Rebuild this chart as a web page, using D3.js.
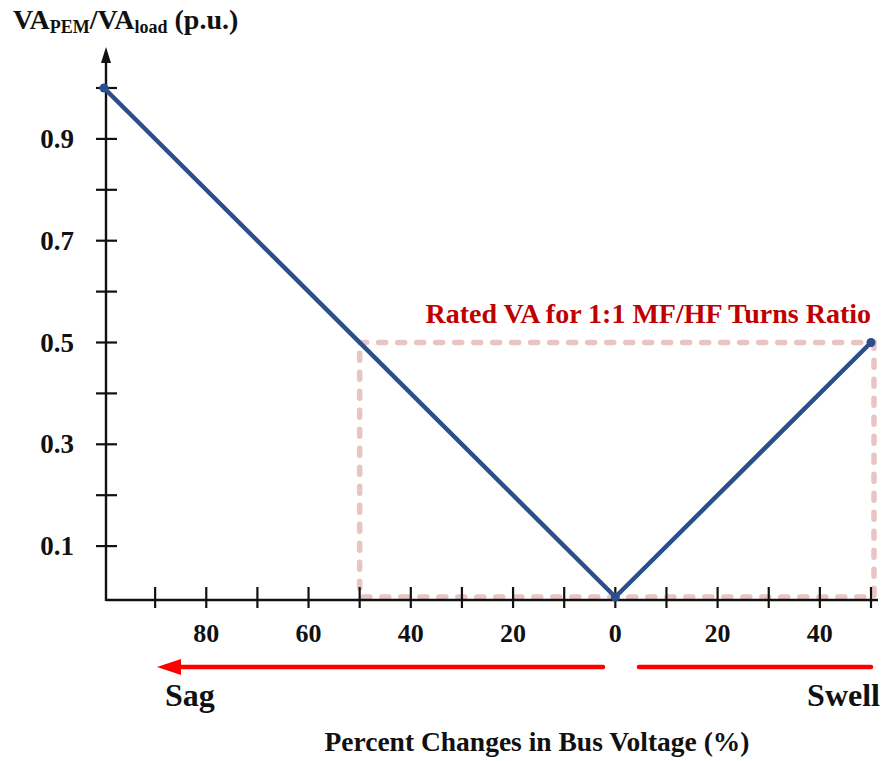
<!DOCTYPE html>
<html>
<head>
<meta charset="utf-8">
<script src="https://cdn.jsdelivr.net/npm/d3@7/dist/d3.min.js"></script>
<style>
  html, body { margin: 0; padding: 0; background: #fff; }
  svg { display: block; }
  text { font-family: "Liberation Serif", "Times New Roman", serif; font-weight: bold; }
</style>
</head>
<body>
<svg id="chart" width="887" height="761"></svg>
<script>
// Signed percent change in bus voltage (negative = sag, positive = swell)
const voltageChange = [-100, 0, 50];
// Required PEM rating relative to load VA (p.u.)
const vaRatio = [1.0, 0.0, 0.5];

// Rated-VA window for a 1:1 MF/HF turns ratio
const ratedChange = [-50, 50];
const ratedVA = 0.5;
const ratedLabel = "Rated VA for 1:1 MF/HF Turns Ratio";

// Axis ticks
const xTickMarks = [-90, -80, -70, -60, -50, -40, -30, -20, -10, 0, 10, 20, 30, 40, 50];
const xTickLabels = [-80, -60, -40, -20, 0, 20, 40];
const yTickMarks = [0.1, 0.2, 0.3, 0.4, 0.5, 0.6, 0.7, 0.8, 0.9, 1.0];
const yTickLabels = [0.1, 0.3, 0.5, 0.7, 0.9];

const xTitle = "Percent Changes in Bus Voltage (%)";

const svg = d3.select("#chart");

const x = d3.scaleLinear().domain([-100, 50]).range([104, 871]);
const y = d3.scaleLinear().domain([0, 1]).range([597, 88]);

const axisX = 106;   // vertical axis position
const axisY = 600;   // horizontal axis position

// Dashed rated-VA window (drawn under the axes)
svg.append("rect")
  .attr("x", x(ratedChange[0]))
  .attr("y", y(ratedVA))
  .attr("width", x(ratedChange[1]) - x(ratedChange[0]) + 3)
  .attr("height", y(0) - y(ratedVA))
  .attr("fill", "none")
  .attr("stroke", "#e9c4c4")
  .attr("stroke-width", 5.5)
  .attr("stroke-linecap", "round")
  .attr("stroke-dasharray", "7,12");

// Axes
svg.append("line")
  .attr("x1", axisX).attr("x2", 878)
  .attr("y1", axisY).attr("y2", axisY)
  .attr("stroke", "#111").attr("stroke-width", 2.4);

svg.append("line")
  .attr("x1", axisX).attr("x2", axisX)
  .attr("y1", axisY + 1).attr("y2", 58)
  .attr("stroke", "#111").attr("stroke-width", 2.4);

// Arrowhead on the vertical axis
svg.append("path")
  .attr("d", `M${axisX},47 L${axisX - 5},63 L${axisX + 5},63 Z`)
  .attr("fill", "#111");

// X tick marks crossing the axis
svg.append("g").selectAll("line")
  .data(xTickMarks)
  .join("line")
  .attr("x1", d => x(d)).attr("x2", d => x(d))
  .attr("y1", axisY - 13).attr("y2", axisY + 8)
  .attr("stroke", "#111").attr("stroke-width", 2.2);

svg.append("g").selectAll("text")
  .data(xTickLabels)
  .join("text")
  .attr("x", d => x(d))
  .attr("y", 642)
  .attr("text-anchor", "middle")
  .attr("font-size", 26)
  .attr("fill", "#111")
  .text(d => Math.abs(d));

// Y tick marks crossing the axis
svg.append("g").selectAll("line")
  .data(yTickMarks)
  .join("line")
  .attr("x1", axisX - 10).attr("x2", axisX + 11)
  .attr("y1", d => y(d)).attr("y2", d => y(d))
  .attr("stroke", "#111").attr("stroke-width", 2.2);

svg.append("g").selectAll("text")
  .data(yTickLabels)
  .join("text")
  .attr("x", 74)
  .attr("y", d => y(d) + 9)
  .attr("text-anchor", "end")
  .attr("font-size", 27)
  .attr("fill", "#111")
  .text(d => d3.format(".1f")(d));

svg.append("text")
  .attr("x", x(ratedChange[1]))
  .attr("y", y(ratedVA) - 20)
  .attr("text-anchor", "end")
  .attr("font-size", 28)
  .attr("fill", "#c00000")
  .text(ratedLabel);

// VA requirement curve
const pts = voltageChange.map((v, i) => [v, vaRatio[i]]);
const line = d3.line().x(d => x(d[0])).y(d => y(d[1]));

svg.append("path")
  .attr("d", line(pts))
  .attr("fill", "none")
  .attr("stroke", "#2c4f8c")
  .attr("stroke-width", 4.5)
  .attr("stroke-linecap", "round")
  .attr("stroke-linejoin", "round");

svg.append("g").selectAll("circle")
  .data(pts)
  .join("circle")
  .attr("cx", d => x(d[0]))
  .attr("cy", d => y(d[1]))
  .attr("r", 4.5)
  .attr("fill", "#2c4f8c");

// Sag / swell direction indicators
svg.append("line")
  .attr("x1", 603).attr("x2", 178)
  .attr("y1", 667).attr("y2", 667)
  .attr("stroke", "#ff0000").attr("stroke-width", 4.5)
  .attr("stroke-linecap", "round");
svg.append("path")
  .attr("d", "M157,667 L181,659 L181,675 Z")
  .attr("fill", "#ff0000");

svg.append("line")
  .attr("x1", 639).attr("x2", 871)
  .attr("y1", 667).attr("y2", 667)
  .attr("stroke", "#ff0000").attr("stroke-width", 4.5)
  .attr("stroke-linecap", "round");

svg.append("text")
  .attr("x", 165).attr("y", 706)
  .attr("font-size", 32)
  .attr("fill", "#111")
  .text("Sag");

svg.append("text")
  .attr("x", 880).attr("y", 706)
  .attr("text-anchor", "end")
  .attr("font-size", 32)
  .attr("fill", "#111")
  .text("Swell");

// Axis titles
svg.append("text")
  .attr("x", 537).attr("y", 751)
  .attr("text-anchor", "middle")
  .attr("font-size", 27.5)
  .attr("fill", "#111")
  .text(xTitle);

const yTitle = svg.append("text")
  .attr("x", 13).attr("y", 29)
  .attr("font-size", 28)
  .attr("fill", "#111");
yTitle.append("tspan").text("VA");
yTitle.append("tspan").attr("font-size", 18).attr("dy", 4).text("PEM");
yTitle.append("tspan").attr("dy", -4).text("/VA");
yTitle.append("tspan").attr("font-size", 18).attr("dy", 4).text("load");
yTitle.append("tspan").attr("dy", -4).text(" (p.u.)");
</script>
</body>
</html>
